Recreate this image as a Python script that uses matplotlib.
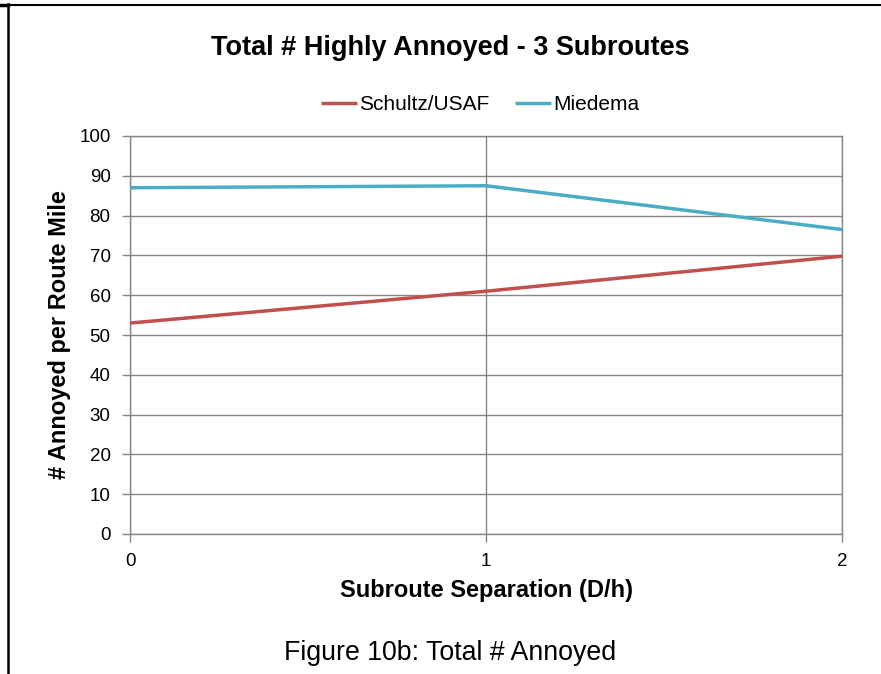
import matplotlib
matplotlib.use("Agg")
import matplotlib.pyplot as plt
from matplotlib.lines import Line2D

plt.rcParams['font.family'] = ['Liberation Sans', 'DejaVu Sans']

separation = [0, 1, 2]
schultz = [53.0, 61.0, 69.8]
miedema = [87.0, 87.5, 76.5]
y_ticks = [0, 10, 20, 30, 40, 50, 60, 70, 80, 90, 100]
x_ticks = [0, 1, 2]

fig = plt.figure(figsize=(8.81, 6.74), dpi=100)
W, H = 881, 674
ax = fig.add_axes([130 / W, 1 - 534 / H, (842 - 130) / W, (534 - 136) / H])

grid_c = '#868686'
ax.plot(separation, schultz, color='#C0504D', lw=2.5, label='Schultz/USAF', solid_capstyle='butt', zorder=3)
ax.plot(separation, miedema, color='#4BACC6', lw=2.5, label='Miedema', solid_capstyle='butt', zorder=3)

ax.set_xlim(0, 2)
ax.set_ylim(0, 100)
ax.set_yticks(y_ticks)
ax.set_xticks(x_ticks)
ax.grid(True, color=grid_c, lw=1.0)
ax.set_axisbelow(True)
for s in ['top', 'right', 'left', 'bottom']:
    ax.spines[s].set_color(grid_c)
    ax.spines[s].set_linewidth(1.0)
ax.tick_params(axis='both', colors=grid_c, length=6, width=1.0, labelsize=13.5, labelcolor='black')
ax.tick_params(axis='y', pad=8)
ax.tick_params(axis='x', pad=8)

ax.set_xlabel('Subroute Separation (D/h)', fontsize=17, fontweight='bold', labelpad=6)
ax.set_ylabel('# Annoyed per Route Mile', fontsize=17, fontweight='bold', labelpad=6)

fig.text(450 / W, 1 - 48 / H, 'Total # Highly Annoyed - 3 Subroutes', ha='center', va='center',
         fontsize=19.5, fontweight='bold')

leg = fig.legend(loc='center', bbox_to_anchor=(480 / W, 1 - 105 / H), ncol=2, frameon=False,
                 fontsize=15, handlelength=1.75, handletextpad=0.1, columnspacing=1.2)

fig.text(450 / W, 1 - 653 / H, 'Figure 10b: Total # Annoyed', ha='center', va='center', fontsize=19.3)

# outer page border lines
fig.add_artist(Line2D([8 / W, 1.0], [1 - 4.5 / H, 1 - 4.5 / H], transform=fig.transFigure, color='black', lw=1.5))
fig.add_artist(Line2D([0, 8 / W], [1 - 5 / H, 1 - 5 / H], transform=fig.transFigure, color='black', lw=2.5))
fig.add_artist(Line2D([8 / W, 8 / W], [0, 1 - 4 / H], transform=fig.transFigure, color='black', lw=1.8))

fig.savefig('out.png', dpi=100)
